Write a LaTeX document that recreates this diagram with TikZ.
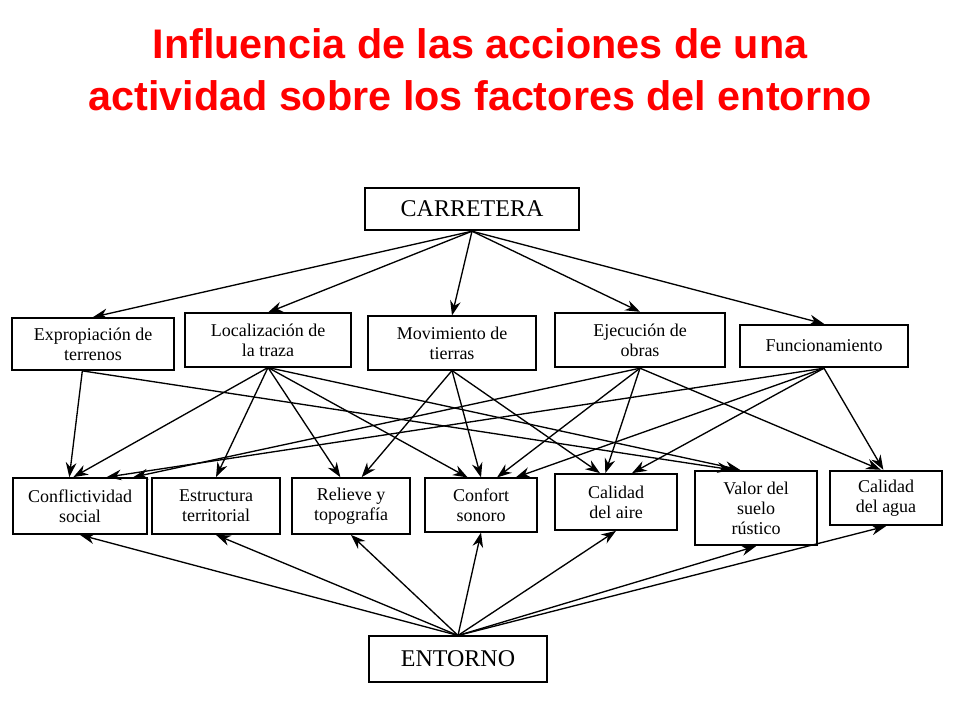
\documentclass[tikz,border=0pt]{standalone}
\usepackage{fontspec}
\setmainfont{Liberation Serif}
\newfontfamily\titlefont{Liberation Sans}
\usetikzlibrary{arrows.meta,positioning}

\begin{document}
\begin{tikzpicture}[
    x=0.75pt,y=-0.75pt,>={Stealth[length=11pt,width=8pt]},
    caja/.style={draw,line width=1.3pt,align=center,inner sep=2pt,font=\fontsize{13.5}{15}\selectfont},
    flecha/.style={->,line width=1pt}]
    \useasboundingbox (0,0) rectangle (960,720);
    \node[font=\titlefont\bfseries\fontsize{31}{39}\selectfont,text=red,align=center] (titulo) at (480,70)
      {Influencia de las acciones de una\\actividad sobre los factores del entorno};

    \node[caja,minimum width=160pt,minimum height=32pt,font=\fontsize{18}{20}\selectfont] (C) at (472,209) {CARRETERA};
    \node[caja,minimum width=134pt,minimum height=34pt,font=\fontsize{18}{20}\selectfont] (E) at (458,659) {ENTORNO};

    % acciones
    \node[caja,minimum width=121pt,minimum height=39pt] (A1) at (93,344) {Expropiación de\\terrenos};
    \node[caja,minimum width=125pt,minimum height=40pt] (A2) at (268,340) {Localización de\\la traza};
    \node[caja,minimum width=126pt,minimum height=40pt] (A3) at (452,343) {Movimiento de\\tierras};
    \node[caja,minimum width=128pt,minimum height=41pt] (A4) at (640,340) {Ejecución de\\obras};
    \node[caja,minimum width=126pt,minimum height=32pt] (A5) at (824,346) {Funcionamiento};

    % factores
    \node[caja,minimum width=101pt,minimum height=42pt] (F1) at (80,506) {Conflictividad\\social};
    \node[caja,minimum width=96pt,minimum height=42pt] (F2) at (216,506) {Estructura\\territorial};
    \node[caja,minimum width=88pt,minimum height=42pt] (F3) at (351,506) {Relieve y\\topografía};
    \node[caja,minimum width=84pt,minimum height=40pt] (F4) at (481,505) {Confort\\sonoro};
    \node[caja,minimum width=91pt,minimum height=42pt] (F5) at (616,502) {Calidad\\del aire};
    \node[caja,minimum width=92pt,minimum height=56pt] (F6) at (756,508) {Valor del\\suelo\\rústico};
    \node[caja,minimum width=84pt,minimum height=41pt] (F7) at (886,498) {Calidad\\del agua};

    \draw[flecha] (C.south) -- (A1.north);
    \draw[flecha] (C.south) -- (A2.north);
    \draw[flecha] (C.south) -- (A3.north);
    \draw[flecha] (C.south) -- (A4.north);
    \draw[flecha] (C.south) -- (A5.north);

    \draw[flecha] ([xshift=-8pt]A1.south) -- ([xshift=-8pt]F1.north);
    \draw[flecha] ([xshift=-8pt]A1.south) -- ([xshift=-18pt]F6.north);
    \draw[flecha] (A2.south) -- ([xshift=-5pt]F1.north);
    \draw[flecha] (A2.south) -- (F2.north);
    \draw[flecha] (A2.south) -- ([xshift=-8pt]F3.north);
    \draw[flecha] (A2.south) -- ([xshift=-10pt]F4.north);
    \draw[flecha] (A2.south) -- ([xshift=-12pt]F6.north);
    \draw[flecha] (A3.south) -- ([xshift=8pt]F3.north);
    \draw[flecha] (A3.south) -- (F4.north);
    \draw[flecha] (A3.south) -- ([xshift=-12pt]F5.north);
    \draw[flecha] (A4.south) -- ([xshift=40pt]F1.north);
    \draw[flecha] (A4.south) -- ([xshift=12pt]F4.north);
    \draw[flecha] (A4.south) -- ([xshift=-8pt]F5.north);
    \draw[flecha] (A4.south) -- ([xshift=-4pt]F7.north);
    \draw[flecha] (A5.south) -- ([xshift=20pt]F1.north);
    \draw[flecha] (A5.south) -- ([xshift=26pt]F4.north);
    \draw[flecha] (A5.south) -- ([xshift=12pt]F5.north);
    \draw[flecha] (A5.south) -- ([xshift=-2pt]F7.north);

    \draw[flecha] (E.north) -- (F1.south);
    \draw[flecha] (E.north) -- (F2.south);
    \draw[flecha] (E.north) -- (F3.south);
    \draw[flecha] (E.north) -- (F4.south);
    \draw[flecha] (E.north) -- (F5.south);
    \draw[flecha] (E.north) -- (F6.south);
    \draw[flecha] (E.north) -- (F7.south);
\end{tikzpicture}
\end{document}
